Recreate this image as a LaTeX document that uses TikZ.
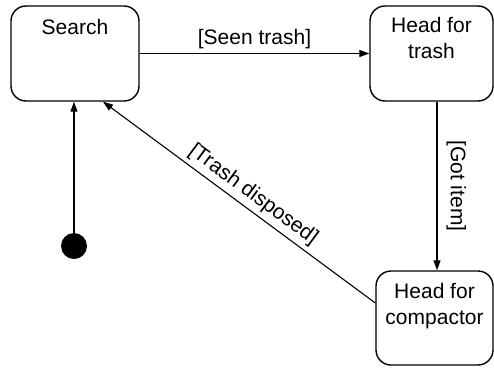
\documentclass[tikz,border=0pt]{standalone}
\usepackage{fontspec}
\setmainfont{Liberation Sans}
\usetikzlibrary{arrows.meta,positioning}

\begin{document}
\begin{tikzpicture}[
    x=1pt, y=-1pt,
    font=\fontsize{21}{26}\selectfont,
    state/.style={draw, rounded corners=15pt, line width=1.4pt, inner sep=0pt},
    trans/.style={-{Triangle[length=10pt, width=7pt]}, line width=1.1pt},
    guard/.style={inner sep=4pt}
]
\useasboundingbox (0,0) rectangle (494,367);

\node[state, minimum width=128pt, minimum height=95pt] (search) at (75,53.5) {};
\node[anchor=center] (searchtxt) at (75,27) {Search};

\node[state, minimum width=123pt, minimum height=95pt] (trash) at (431.5,53.5) {};
\node[align=center, anchor=north] (trashtxt) at (431.5,14) {Head for\\trash};

\node[state, minimum width=117pt, minimum height=94pt] (comp) at (434.5,318) {};
\node[align=center, anchor=north] (comptxt) at (434.5,280) {Head for\\compactor};

\node[circle, fill, minimum size=26pt, inner sep=0pt] (init) at (74,246) {};

\draw[trans] (init) -- (init |- search.south);
\draw[trans] (search.east) -- node[guard, above] {[Seen trash]} (trash.west);
\draw[trans] ([xshift=5.5pt]trash.south) -- node[guard, inner sep=9pt, above, sloped] {[Got item]} ([xshift=2.5pt]comp.north);
\draw[trans] ([yshift=15pt]comp.west) -- node[guard, pos=0.48, above, sloped] {[Trash disposed]} ([xshift=28pt]search.south);
\end{tikzpicture}
\end{document}
